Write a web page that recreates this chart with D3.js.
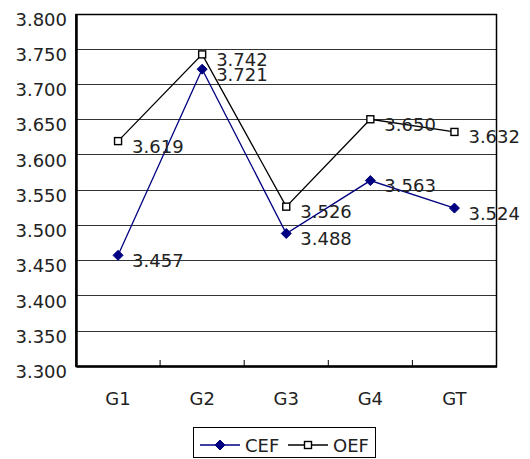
<!DOCTYPE html>
<html>
<head>
<meta charset="utf-8">
<script src="https://cdn.jsdelivr.net/npm/d3@7"></script>
<style>
  html, body { margin: 0; padding: 0; background: #fff; }
  svg { display: block; }
  text { font-family: "DejaVu Sans", sans-serif; fill: #222; }
</style>
</head>
<body>
<svg id="chart" width="530" height="459"></svg>
<script>
// Group categories along the x axis
const categories = ["G1", "G2", "G3", "G4", "GT"];
// Mean scores per group
const cefValues = [3.457, 3.721, 3.488, 3.563, 3.524];
const oefValues = [3.619, 3.742, 3.526, 3.650, 3.632];
// Y axis tick values
const yTicks = [3.300, 3.350, 3.400, 3.450, 3.500, 3.550, 3.600, 3.650, 3.700, 3.750, 3.800];

const series = [
  { name: "CEF", values: cefValues, color: "#000080", marker: "diamond" },
  { name: "OEF", values: oefValues, color: "#000000", marker: "square" }
];

const svg = d3.select("#chart");
const plot = { left: 76, right: 496.5, top: 13.5, bottom: 366 };

const x = d3.scaleBand().domain(categories).range([plot.left, plot.right]).padding(0);
const y = d3.scaleLinear().domain([3.3, 3.8]).range([plot.bottom, plot.top]);
const cx = d => x(d) + x.bandwidth() / 2;

// Horizontal gridlines
svg.append("g")
  .selectAll("line")
  .data(yTicks)
  .join("line")
  .attr("x1", plot.left).attr("x2", plot.right)
  .attr("y1", d => Math.round(y(d)) + 0.5).attr("y2", d => Math.round(y(d)) + 0.5)
  .attr("stroke", "#333").attr("stroke-width", 1);

// Plot frame
svg.append("rect")
  .attr("x", plot.left).attr("y", Math.round(plot.top) + 0.5)
  .attr("width", plot.right - plot.left).attr("height", plot.bottom - Math.round(plot.top))
  .attr("fill", "none").attr("stroke", "#000").attr("stroke-width", 1.5);

// Y axis
const yAxis = d3.axisLeft(y).tickValues(yTicks).tickFormat(d3.format(".3f")).tickSize(0).tickPadding(9);
const gy = svg.append("g").attr("transform", `translate(${plot.left},0)`).call(yAxis);
gy.select(".domain").attr("stroke", "#000").attr("stroke-width", 2.5);
gy.selectAll("text")
  .attr("font-size", 18).attr("font-family", "DejaVu Sans, sans-serif")
  .attr("fill", "#222").attr("dy", "0.65em");

// X axis: tick marks sit between categories and point into the plot
const gx = svg.append("g").attr("transform", `translate(0,${plot.bottom})`)
  .call(d3.axisBottom(x).tickSize(0).tickPadding(26));
gx.select(".domain").attr("stroke", "#000").attr("stroke-width", 2.5);
gx.selectAll("text")
  .attr("font-size", 18).attr("font-family", "DejaVu Sans, sans-serif").attr("fill", "#222");
svg.append("g")
  .selectAll("line")
  .data(categories.slice(1))
  .join("line")
  .attr("x1", d => x(d)).attr("x2", d => x(d))
  .attr("y1", plot.bottom).attr("y2", plot.bottom - 6)
  .attr("stroke", "#000").attr("stroke-width", 1);

const line = d3.line().x((d, i) => cx(categories[i])).y(d => y(d));

function drawMarker(g, type, color, px, py) {
  if (type === "diamond") {
    const s = 5;
    g.append("path")
      .attr("d", `M${px},${py - s}L${px + s},${py}L${px},${py + s}L${px - s},${py}Z`)
      .attr("fill", color).attr("stroke", color);
  } else {
    g.append("rect")
      .attr("x", px - 3.5).attr("y", py - 3.5).attr("width", 7).attr("height", 7)
      .attr("fill", "#fff").attr("stroke", color).attr("stroke-width", 1.4);
  }
}

series.forEach(s => {
  const g = svg.append("g");
  g.append("path").datum(s.values)
    .attr("d", line).attr("fill", "none")
    .attr("stroke", s.color).attr("stroke-width", 1.3);
  s.values.forEach((v, i) => drawMarker(g, s.marker, s.color, cx(categories[i]), y(v)));
  g.selectAll("text.value")
    .data(s.values)
    .join("text")
    .attr("class", "value")
    .attr("x", (d, i) => cx(categories[i]) + 14)
    .attr("y", d => y(d) + 5)
    .attr("dominant-baseline", "central")
    .attr("font-size", 18)
    .text(d => d3.format(".3f")(d));
});

// Legend
const lg = svg.append("g");
lg.append("rect")
  .attr("x", 193.5).attr("y", 427.5).attr("width", 182).attr("height", 30)
  .attr("fill", "#fff").attr("stroke", "#000").attr("stroke-width", 1);
const legendItems = [
  { s: series[0], x0: 200, x1: 240, tx: 245 },
  { s: series[1], x0: 288, x1: 328, tx: 333 }
];
legendItems.forEach(it => {
  lg.append("line")
    .attr("x1", it.x0).attr("x2", it.x1).attr("y1", 445).attr("y2", 445)
    .attr("stroke", it.s.color).attr("stroke-width", 1.3);
  drawMarker(lg, it.s.marker, it.s.color, (it.x0 + it.x1) / 2, 445);
  lg.append("text")
    .attr("x", it.tx).attr("y", 445)
    .attr("dominant-baseline", "central")
    .attr("font-size", 18)
    .text(it.s.name);
});
</script>
</body>
</html>
